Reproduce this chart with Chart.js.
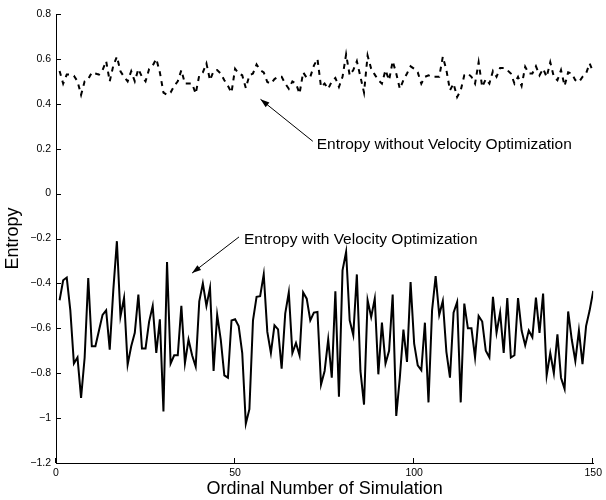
<!DOCTYPE html>
<html>
<head>
<meta charset="utf-8">
<script src="https://cdn.jsdelivr.net/npm/chart.js@4.4.1/dist/chart.umd.min.js"></script>
<style>
html, body { margin: 0; padding: 0; background: #fff; }
</style>
</head>
<body>
<canvas id="myChart" width="606" height="500"></canvas>
<script>
// ordinal number of each simulation run
const simulationNumbers = Array.from({ length: 150 }, (_, i) => i + 1);

// entropy per run
const entropyWithout = [
    0.546, 0.49, 0.53, 0.53, 0.525, 0.50, 0.44, 0.50, 0.51, 0.54,
    0.535, 0.53, 0.55, 0.59, 0.50, 0.57, 0.61, 0.545, 0.52, 0.50,
    0.545, 0.50, 0.555, 0.52, 0.50, 0.555, 0.57, 0.60, 0.54, 0.45,
    0.44, 0.45, 0.48, 0.50, 0.55, 0.49, 0.49, 0.49, 0.445, 0.527,
    0.54, 0.58, 0.505, 0.546, 0.55, 0.535, 0.505, 0.48, 0.45, 0.556,
    0.535, 0.527, 0.47, 0.527, 0.535, 0.575, 0.55, 0.54, 0.497, 0.49,
    0.51, 0.52, 0.52, 0.49, 0.467, 0.50, 0.49, 0.445, 0.54, 0.516,
    0.52, 0.57, 0.60, 0.475, 0.49, 0.467, 0.50, 0.515, 0.475, 0.52,
    0.62, 0.527, 0.55, 0.59, 0.52, 0.45, 0.615, 0.556, 0.53, 0.505,
    0.49, 0.55, 0.505, 0.59, 0.535, 0.467, 0.505, 0.535, 0.567, 0.556,
    0.54, 0.49, 0.52, 0.527, 0.52, 0.52, 0.52, 0.61, 0.55, 0.46,
    0.49, 0.43, 0.46, 0.527, 0.535, 0.52, 0.49, 0.585, 0.475, 0.51,
    0.49, 0.546, 0.52, 0.56, 0.56, 0.55, 0.535, 0.49, 0.52, 0.48,
    0.565, 0.535, 0.535, 0.567, 0.527, 0.556, 0.52, 0.585, 0.52, 0.505,
    0.55, 0.48, 0.54, 0.535, 0.505, 0.497, 0.52, 0.535, 0.58, 0.54
];

const entropyWith = [
    -0.475, -0.386, -0.374, -0.52, -0.757, -0.73, -0.91, -0.73, -0.376, -0.68,
    -0.68, -0.61, -0.54, -0.52, -0.695, -0.43, -0.212, -0.547, -0.465, -0.762,
    -0.68, -0.62, -0.45, -0.69, -0.69, -0.57, -0.50, -0.71, -0.56, -0.97,
    -0.305, -0.757, -0.72, -0.72, -0.50, -0.755, -0.65, -0.72, -0.77, -0.48,
    -0.40, -0.50, -0.42, -0.79, -0.54, -0.65, -0.81, -0.82, -0.565, -0.56,
    -0.59, -0.71, -1.025, -0.96, -0.565, -0.46, -0.457, -0.36, -0.616, -0.71,
    -0.587, -0.605, -0.78, -0.535, -0.44, -0.71, -0.665, -0.72, -0.44, -0.468,
    -0.565, -0.53, -0.527, -0.85, -0.79, -0.65, -0.82, -0.435, -0.905, -0.342,
    -0.26, -0.565, -0.63, -0.36, -0.79, -0.94, -0.475, -0.55, -0.468, -0.805,
    -0.575, -0.757, -0.70, -0.45, -0.99, -0.82, -0.606, -0.75, -0.394, -0.668,
    -0.765, -0.787, -0.575, -0.93, -0.52, -0.368, -0.54, -0.478, -0.705, -0.82,
    -0.53, -0.483, -0.93, -0.49, -0.60, -0.60, -0.73, -0.545, -0.57, -0.70,
    -0.73, -0.46, -0.62, -0.53, -0.71, -0.465, -0.73, -0.72, -0.465, -0.61,
    -0.676, -0.61, -0.64, -0.463, -0.62, -0.445, -0.81, -0.71, -0.80, -0.627,
    -0.82, -0.87, -0.525, -0.65, -0.745, -0.61, -0.76, -0.59, -0.52, -0.433
];

const xTickValues = [0, 50, 100, 150];
const yTickValues = [-1.2, -1, -0.8, -0.6, -0.4, -0.2, 0, 0.2, 0.4, 0.6, 0.8];

const labelWithout = 'Entropy without Velocity Optimization';
const labelWith = 'Entropy with Velocity Optimization';

Chart.defaults.font.family = '"Liberation Sans", Arial, Helvetica, sans-serif';
Chart.defaults.color = '#000';

function toPoints(values) {
    return simulationNumbers.map((n, i) => ({ x: n, y: values[i] }));
}

function fmtTick(v) {
    const s = String(Number(v.toFixed(1)));
    return s.replace('-', '\u2212');
}

// matlab style ticks pointing into the plot
const inwardTicks = {
    id: 'inwardTicks',
    afterDraw(chart) {
        const { ctx, chartArea, scales } = chart;
        ctx.save();
        ctx.strokeStyle = '#000';
        ctx.lineWidth = 1;
        ctx.setLineDash([]);
        yTickValues.forEach(v => {
            const py = Math.round(scales.y.getPixelForValue(v)) + 0.5;
            ctx.beginPath();
            ctx.moveTo(chartArea.left, py);
            ctx.lineTo(chartArea.left + 5, py);
            ctx.stroke();
        });
        xTickValues.forEach(v => {
            const px = Math.round(scales.x.getPixelForValue(v)) - 0.5;
            ctx.beginPath();
            ctx.moveTo(px, chartArea.bottom);
            ctx.lineTo(px, chartArea.bottom - 5);
            ctx.stroke();
        });
        ctx.restore();
    }
};

// text + arrow callouts, placed in data coordinates
const arrowNotes = {
    id: 'arrowNotes',
    afterDatasetsDraw(chart, args, opts) {
        const { ctx, scales } = chart;
        const X = v => scales.x.getPixelForValue(v);
        const Y = v => scales.y.getPixelForValue(v);
        ctx.save();
        ctx.strokeStyle = '#000';
        ctx.fillStyle = '#000';
        ctx.lineWidth = 1;
        ctx.setLineDash([]);
        ctx.font = opts.font;
        ctx.textBaseline = 'alphabetic';
        ctx.textAlign = 'left';
        opts.notes.forEach(n => {
            ctx.fillText(n.text, X(n.textAt[0]), Y(n.textAt[1]));
            const x1 = X(n.from[0]), y1 = Y(n.from[1]);
            const x2 = X(n.to[0]), y2 = Y(n.to[1]);
            ctx.beginPath();
            ctx.moveTo(x1, y1);
            ctx.lineTo(x2, y2);
            ctx.stroke();
            const ang = Math.atan2(y2 - y1, x2 - x1);
            const len = 9, half = 3;
            const bx = x2 - len * Math.cos(ang), by = y2 - len * Math.sin(ang);
            ctx.beginPath();
            ctx.moveTo(x2, y2);
            ctx.lineTo(bx + half * Math.sin(ang), by - half * Math.cos(ang));
            ctx.lineTo(bx - half * Math.sin(ang), by + half * Math.cos(ang));
            ctx.closePath();
            ctx.fill();
        });
        ctx.restore();
    }
};

const ctx = document.getElementById('myChart').getContext('2d');
const myChart = new Chart(ctx, {
    type: 'line',
    data: {
        datasets: [
            {
                label: labelWithout,
                data: toPoints(entropyWithout),
                borderColor: '#000',
                borderWidth: 2,
                borderDash: [5, 5],
                pointRadius: 0,
                tension: 0,
                fill: false
            },
            {
                label: labelWith,
                data: toPoints(entropyWith),
                borderColor: '#000',
                borderWidth: 2,
                pointRadius: 0,
                tension: 0,
                fill: false
            }
        ]
    },
    options: {
        responsive: false,
        animation: false,
        layout: { padding: { top: 14, right: 10, left: 0, bottom: 0 } },
        plugins: {
            legend: { display: false },
            tooltip: { enabled: false },
            arrowNotes: {
                font: '15.5px "Liberation Sans", Arial, sans-serif',
                notes: [
                    { text: labelWithout, textAt: [72.8, 0.2], from: [71.7, 0.233], to: [57.1, 0.42] },
                    { text: labelWith, textAt: [52.5, -0.223], from: [51.1, -0.193], to: [38.0, -0.354] }
                ]
            }
        },
        scales: {
            x: {
                type: 'linear',
                min: 0,
                max: 150,
                afterBuildTicks: scale => { scale.ticks = xTickValues.map(v => ({ value: v })); },
                afterFit: scale => { scale.height = 37; },
                grid: { display: false, drawTicks: false },
                border: { display: true, color: '#000', width: 1 },
                ticks: {
                    padding: 4,
                    maxRotation: 0,
                    font: { size: 10.5 },
                    callback: v => fmtTick(v)
                },
                title: {
                    display: true,
                    text: 'Ordinal Number of Simulation',
                    font: { size: 18 },
                    padding: { top: 0, bottom: 0 }
                }
            },
            y: {
                min: -1.2,
                max: 0.8,
                afterBuildTicks: scale => { scale.ticks = yTickValues.map(v => ({ value: v })); },
                afterFit: scale => { scale.width = 56; },
                grid: { display: false, drawTicks: false },
                border: { display: true, color: '#000', width: 1 },
                ticks: {
                    padding: 5,
                    font: { size: 10.5 },
                    callback: v => fmtTick(v)
                },
                title: {
                    display: true,
                    text: 'Entropy',
                    font: { size: 18 },
                    padding: { top: 2, bottom: 0 }
                }
            }
        }
    },
    plugins: [inwardTicks, arrowNotes]
});
</script>
</body>
</html>
